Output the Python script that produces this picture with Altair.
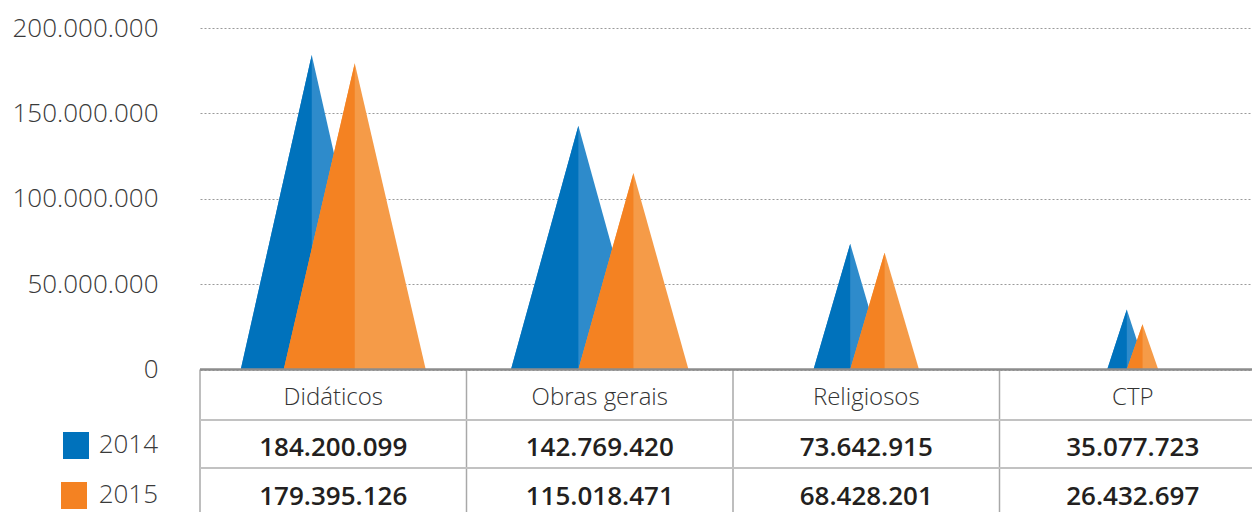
import altair as alt
import pandas as pd

# ---------------- data ----------------
categories = ["Didáticos", "Obras gerais", "Religiosos", "CTP"]
years = ["2014", "2015"]
values_2014 = [184200099, 142769420, 73642915, 35077723]
values_2015 = [179395126, 115018471, 68428201, 26432697]
y_ticks = [0, 50000000, 100000000, 150000000, 200000000]

# ---------------- layout / style ----------------
W, H = 1052, 484
ZERO_PX = 341.5          # px from plot top down to value 0
YMAX = 200000000
COL_PX = 266.5           # table column width in px
PX_PER_VAL = ZERO_PX / YMAX
YMIN = -(H - ZERO_PX) / PX_PER_VAL
XMAX = W / COL_PX
FONT = "Open Sans"
MAX_PAIR_PX = 185        # widest a pair of cones may spread

dark = {"2014": "#0072bc", "2015": "#f48222"}
light = {"2014": "#2e8bcb", "2015": "#f59b48"}


def fmt(v):
    return f"{v:,}".replace(",", ".")


def half_width_px(v):
    h = v * PX_PER_VAL
    return min(0.26 * h + 4, 71)


full_rows, left_rows = [], []
for i, cat in enumerate(categories):
    vb, vo = values_2014[i], values_2015[i]
    hb, ho = half_width_px(vb), half_width_px(vo)
    center = (i + 0.5) * COL_PX
    total = min(hb + 2 * ho, MAX_PAIR_PX)
    left_b = center - total / 2
    peak_b = left_b + hb
    peak_o = left_b + total - ho
    for yr, v, peak, hw in (("2014", vb, peak_b, hb), ("2015", vo, peak_o, ho)):
        key = f"{cat}-{yr}"
        pts = [(peak - hw, 0), (peak, v), (peak + hw, 0)]
        for px, val in pts:
            full_rows.append({"key": key, "year": yr, "x": px / COL_PX, "v": val, "base": 0})
        for px, val in pts[:2]:
            left_rows.append({"key": key, "year": yr, "x": px / COL_PX, "v": val, "base": 0})

full_df = pd.DataFrame(full_rows)
left_df = pd.DataFrame(left_rows)

X = alt.X("x:Q", scale=alt.Scale(domain=[0, XMAX], nice=False, zero=False), axis=None)
Y = alt.Y(
    "v:Q",
    scale=alt.Scale(domain=[YMIN, YMAX], nice=False, zero=False),
    axis=alt.Axis(
        values=y_ticks,
        title=None,
        grid=True,
        gridDash=[2, 2],
        gridColor="#9a9a9a",
        gridWidth=1,
        domain=False,
        ticks=False,
        tickSize=0,
        labelFontSize=26,
        labelFont=FONT,
        labelFontWeight=300,
        labelColor="#3a3a3a",
        labelPadding=42,
        labelFlush=False,
        labelExpr="replace(replace(format(datum.value, ','), ',', '.'), ',', '.')",
    ),
)

layers = []
for yr in years:
    layers.append(
        alt.Chart(full_df[full_df.year == yr])
        .mark_area(color=light[yr], opacity=1)
        .encode(x=X, y=Y, y2="base:Q", detail="key:N")
    )
    layers.append(
        alt.Chart(left_df[left_df.year == yr])
        .mark_area(color=dark[yr], opacity=1)
        .encode(x=X, y=Y, y2="base:Q", detail="key:N")
    )

# ---------------- table ----------------
cols_df = pd.DataFrame({"x": [float(i) for i in range(len(categories))]})
vlines = alt.Chart(cols_df).mark_rule(color="#a8a8a8", strokeWidth=1.5).encode(
    x=X, y=alt.value(ZERO_PX), y2=alt.value(H)
)
hl_df = pd.DataFrame({"py": [392, 440]})
hlines = alt.Chart(hl_df).mark_rule(color="#c2c2c2", strokeWidth=2).encode(
    y=alt.Y("py:Q", scale=None), x=alt.value(0), x2=alt.value(W)
)
topline = alt.Chart(cols_df.head(1)).mark_rule(color="#8c8c8c", strokeWidth=2.5).encode(
    y=alt.value(ZERO_PX), x=alt.value(0), x2=alt.value(W)
)

tab_df = pd.DataFrame(
    {
        "x": [i + 0.5 for i in range(len(categories))],
        "cat": categories,
        "v14": [fmt(v) for v in values_2014],
        "v15": [fmt(v) for v in values_2015],
    }
)
head_txt = alt.Chart(tab_df).mark_text(
    font=FONT, fontSize=24, fontWeight=300, color="#333333", baseline="alphabetic", align="center"
).encode(x=X, y=alt.value(377), text="cat:N")
row14 = alt.Chart(tab_df).mark_text(
    font=FONT, fontSize=26, fontWeight=600, color="#231f20", baseline="alphabetic", align="center"
).encode(x=X, y=alt.value(428), text="v14:N")
row15 = alt.Chart(tab_df).mark_text(
    font=FONT, fontSize=26, fontWeight=600, color="#231f20", baseline="alphabetic", align="center"
).encode(x=X, y=alt.value(477), text="v15:N")

# ---------------- legend ----------------
leg_df = pd.DataFrame({"year": years, "color": [dark[y] for y in years]})
leg14 = alt.Chart(leg_df[leg_df.year == "2014"]).mark_rect(color=dark["2014"]).encode(
    x=alt.value(-137), x2=alt.value(-111), y=alt.value(404), y2=alt.value(431)
)
leg15 = alt.Chart(leg_df[leg_df.year == "2015"]).mark_rect(color=dark["2015"]).encode(
    x=alt.value(-139), x2=alt.value(-113), y=alt.value(454), y2=alt.value(481)
)
legt14 = alt.Chart(leg_df[leg_df.year == "2014"]).mark_text(
    font=FONT, fontSize=26, fontWeight=300, color="#3a3a3a", align="right", baseline="alphabetic"
).encode(x=alt.value(-42), y=alt.value(425), text="year:N")
legt15 = alt.Chart(leg_df[leg_df.year == "2015"]).mark_text(
    font=FONT, fontSize=26, fontWeight=300, color="#3a3a3a", align="right", baseline="alphabetic"
).encode(x=alt.value(-42), y=alt.value(475), text="year:N")

chart = (
    alt.layer(*layers, vlines, hlines, topline, head_txt, row14, row15, leg14, leg15, legt14, legt15)
    .properties(
        width=W,
        height=H,
        autosize=alt.AutoSizeParams(type="none"),
        padding={"left": 192, "top": 20, "right": 0, "bottom": 0},
    )
    .configure_view(stroke="transparent")
)

chart.save("out.html", embed_options={"renderer": "svg", "actions": False})
